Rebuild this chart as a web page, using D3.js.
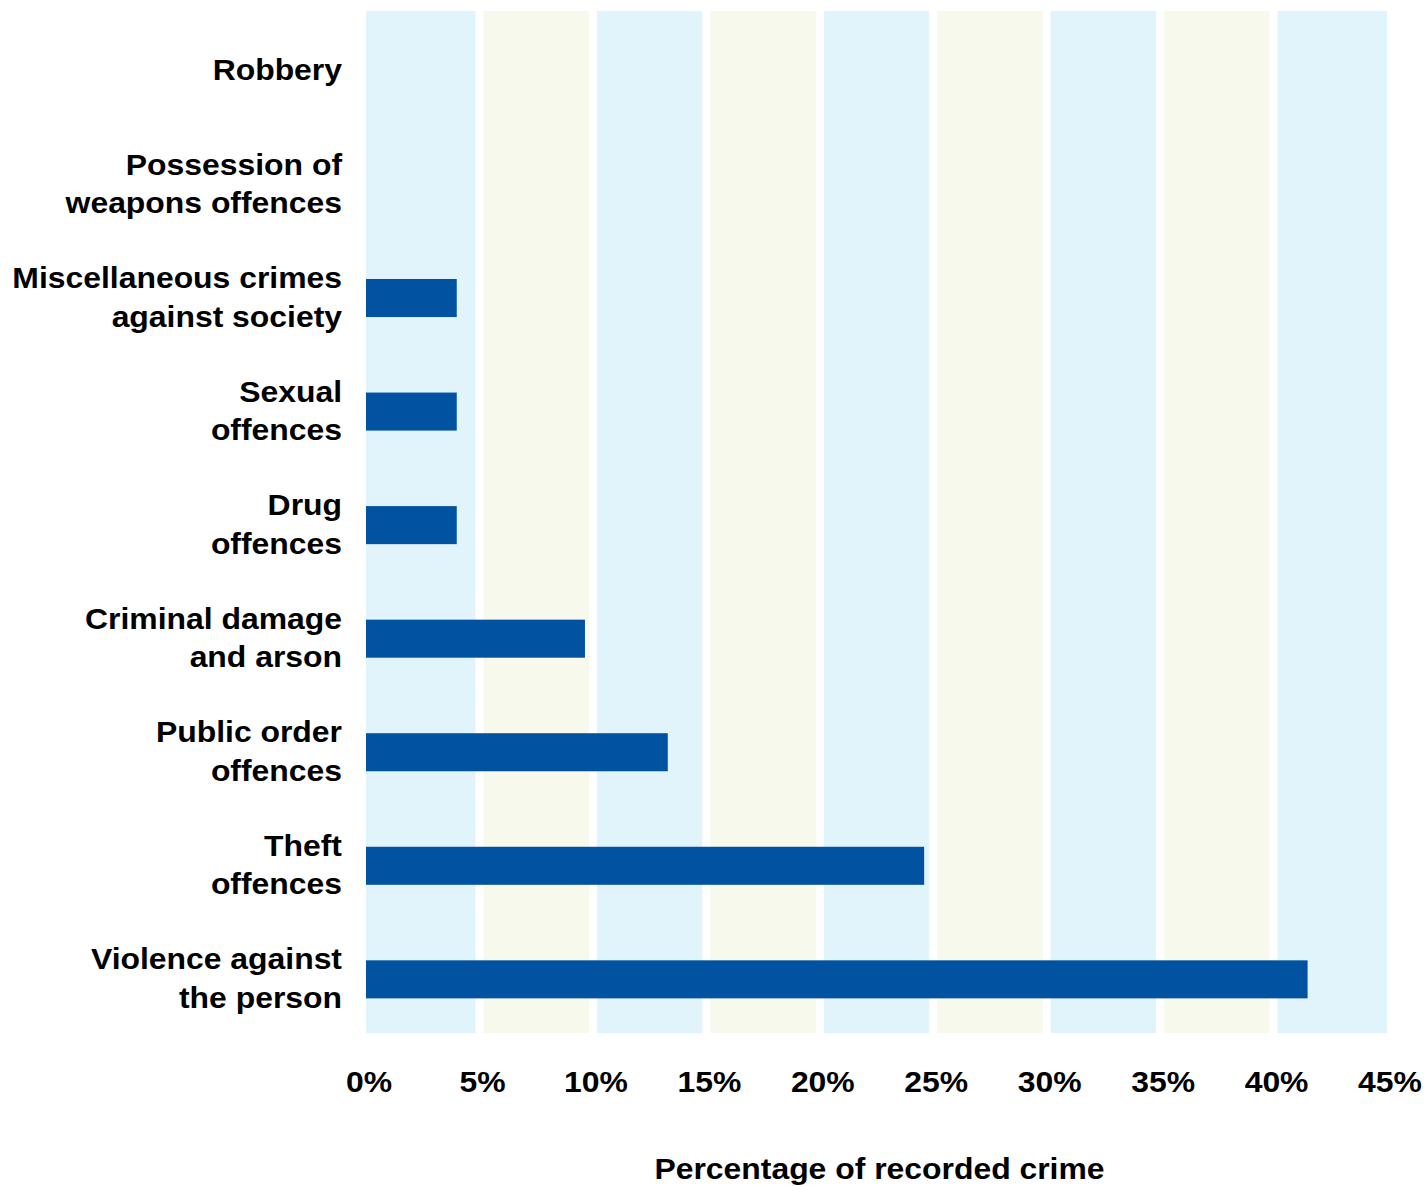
<!DOCTYPE html>
<html>
<head>
<meta charset="utf-8">
<script src="https://cdn.jsdelivr.net/npm/d3@7"></script>
<style>
  html, body { margin: 0; padding: 0; background: #fff; }
  svg { display: block; }
  text { font-family: "Liberation Sans", Arial, sans-serif; font-weight: bold; fill: #000; }
</style>
</head>
<body>
<svg id="chart" width="1427" height="1186"></svg>
<script>
// Offence groups, top to bottom
const categories = [
  "Robbery",
  "Possession of weapons offences",
  "Miscellaneous crimes against society",
  "Sexual offences",
  "Drug offences",
  "Criminal damage and arson",
  "Public order offences",
  "Theft offences",
  "Violence against the person"
];
// How each label breaks across lines
const categoryLines = [
  ["Robbery"],
  ["Possession of", "weapons offences"],
  ["Miscellaneous crimes", "against society"],
  ["Sexual", "offences"],
  ["Drug", "offences"],
  ["Criminal damage", "and arson"],
  ["Public order", "offences"],
  ["Theft", "offences"],
  ["Violence against", "the person"]
];
// Share of recorded crime (%)
const shares = [0, 0, 4.0, 4.0, 4.0, 9.65, 13.3, 24.6, 41.5];
// Axis ticks (%)
const tickValues = [0, 5, 10, 15, 20, 25, 30, 35, 40, 45];
const tickLabels = ["0%", "5%", "10%", "15%", "20%", "25%", "30%", "35%", "40%", "45%"];
const axisTitle = "Percentage of recorded crime";

const svg = d3.select("#chart");
const plot = { left: 366, right: 1387, top: 11, bottom: 1033 };
const fontSize = 29;
const stretch = 1.1;

const x = d3.scaleLinear().domain([0, 45]).range([plot.left, plot.right]);
const y = d3.scaleBand().domain(categories).range([plot.top, plot.bottom]);
const bw = y.bandwidth();

// Alternating column bands, separated by white gaps at each interior tick
const bandColors = ["#e1f4fc", "#f7f9ed"];
const halfGap = 4;
const bands = d3.range(tickValues.length - 1);
svg.append("g").selectAll("rect").data(bands).join("rect")
  .attr("x", i => i === 0 ? x(tickValues[i]) : x(tickValues[i]) + halfGap)
  .attr("width", i => {
    const a = i === 0 ? x(tickValues[i]) : x(tickValues[i]) + halfGap;
    const b = i === bands.length - 1 ? x(tickValues[i + 1]) : x(tickValues[i + 1]) - halfGap;
    return b - a;
  })
  .attr("y", plot.top)
  .attr("height", plot.bottom - plot.top)
  .attr("fill", i => bandColors[i % 2]);

// Bars
svg.append("g").selectAll("rect").data(categories).join("rect")
  .attr("x", x(0))
  .attr("y", d => y(d) + bw * 0.36)
  .attr("width", (d, i) => x(shares[i]) - x(0))
  .attr("height", bw * 0.335)
  .attr("fill", "#0152a1");

// Category labels, right-aligned against the plot
const lineGap = 38.5;
const labels = svg.append("g").selectAll("g").data(categories).join("g")
  .attr("transform", d => `translate(342,${y(d) + bw / 2 + 2}) scale(${stretch},1)`);
labels.each(function (d, i) {
  const lines = categoryLines[i];
  const n = lines.length;
  d3.select(this).selectAll("text").data(lines).join("text")
    .attr("text-anchor", "end")
    .attr("font-size", fontSize)
    .attr("y", (l, j) => (j - (n - 1) / 2) * lineGap)
    .attr("dy", "0.36em")
    .text(l => l);
});

// X tick labels
svg.append("g").selectAll("text").data(tickValues).join("text")
  .attr("transform", d => `translate(${x(d) + 3},1092) scale(${stretch},1)`)
  .attr("text-anchor", "middle")
  .attr("font-size", fontSize)
  .text((d, i) => tickLabels[i]);

// Axis title
svg.append("text")
  .attr("transform", `translate(${(plot.left + plot.right) / 2 + 3},1179) scale(${stretch},1)`)
  .attr("text-anchor", "middle")
  .attr("font-size", fontSize)
  .text(axisTitle);
</script>
</body>
</html>
